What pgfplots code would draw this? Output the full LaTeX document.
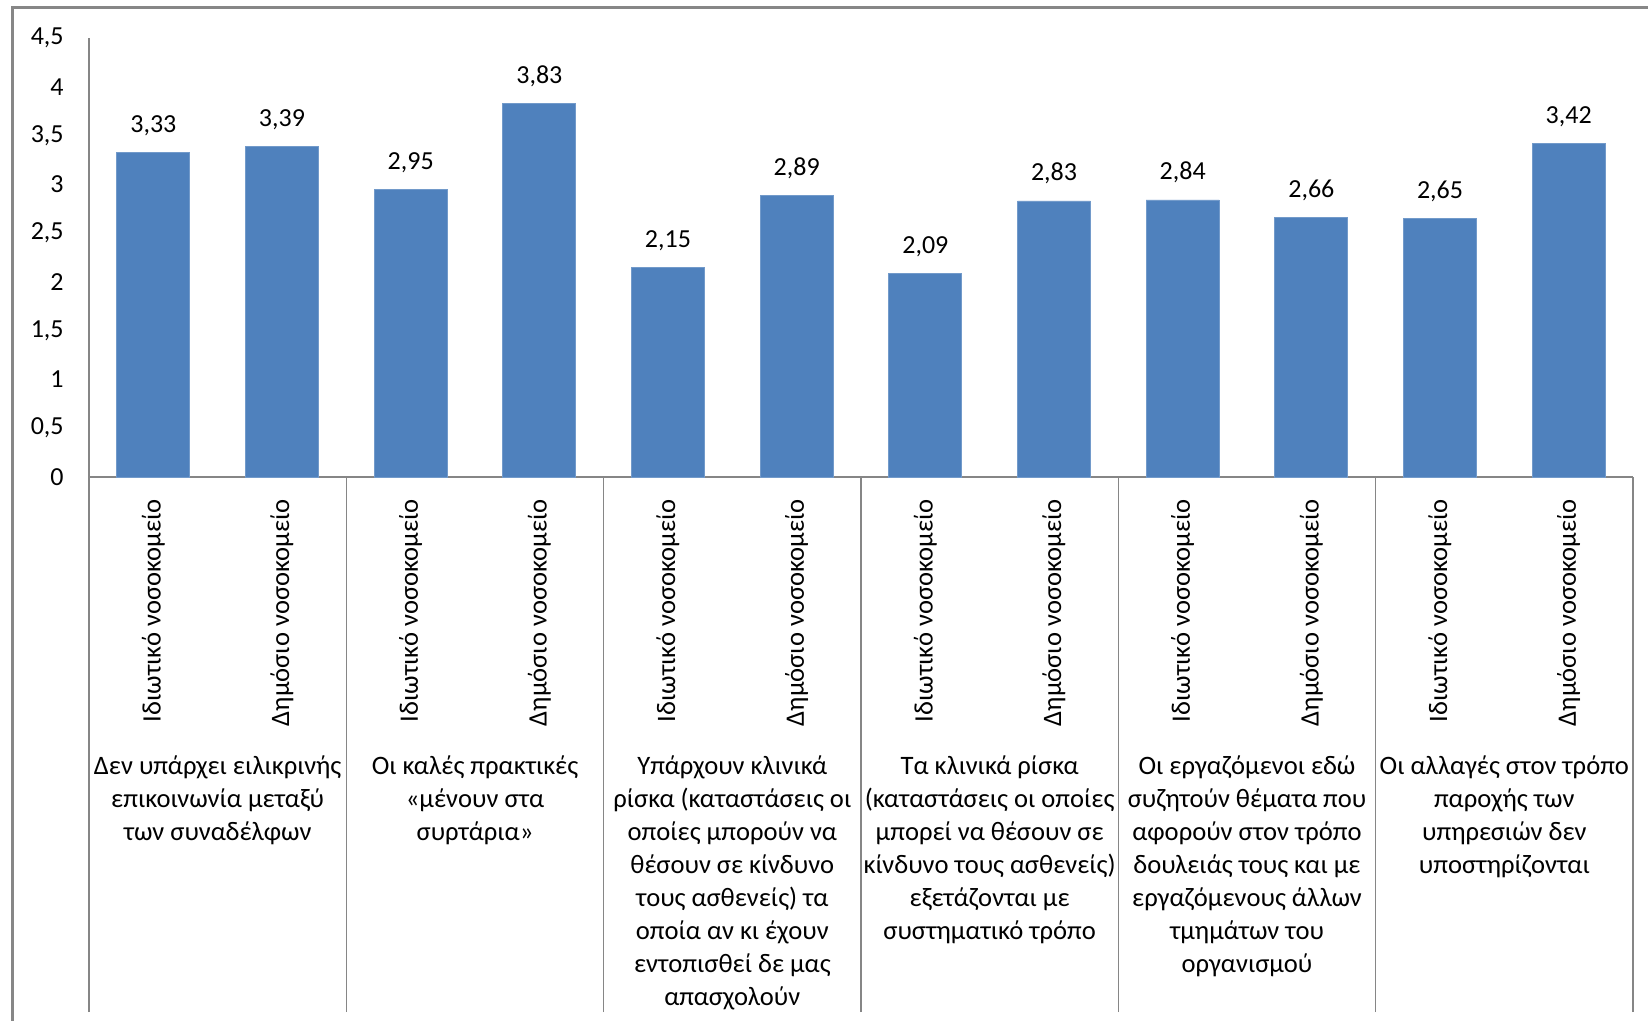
\documentclass[border=0pt]{standalone}
\usepackage{fontspec}
\setmainfont{Carlito}
\usepackage{pgfplots}
\pgfplotsset{compat=1.18}
\definecolor{barblue}{RGB}{79,129,189}
\definecolor{axgray}{RGB}{134,134,134}
\definecolor{framegray}{RGB}{135,135,135}
\begin{document}
\begin{tikzpicture}
\path[use as bounding box] (0,0) rectangle (824pt,510.5pt);
\draw[framegray, line width=1.5pt] (6pt,-2pt) -- (6pt,506.5pt) -- (830pt,506.5pt);
\begin{axis}[
  at={(44.5pt,272pt)}, anchor=south west,
  scale only axis, width=772pt, height=219.5pt,
  xmin=-0.5, xmax=11.5, ymin=0, ymax=4.5,
  clip=false,
  axis lines*=left,
  axis line style={axgray, line width=0.6pt},
  /pgf/number format/assume math mode=true,
  /pgf/number format/use comma,
  font=\fontsize{13}{15.6}\selectfont,
  ytick={0,0.5,1,1.5,2,2.5,3,3.5,4,4.5},
  ytick style={draw=none},
  yticklabel style={anchor=east, inner sep=0pt},
  yticklabel shift=12.5pt,
  major tick length=0pt,
  xtick={0,1,2,3,4,5,6,7,8,9,10,11},
  xtick style={draw=none},
  xticklabels={Ιδιωτικό νοσοκομείο, Δημόσιο νοσοκομείο, Ιδιωτικό νοσοκομείο, Δημόσιο νοσοκομείο, Ιδιωτικό νοσοκομείο, Δημόσιο νοσοκομείο, Ιδιωτικό νοσοκομείο, Δημόσιο νοσοκομείο, Ιδιωτικό νοσοκομείο, Δημόσιο νοσοκομείο, Ιδιωτικό νοσοκομείο, Δημόσιο νοσοκομείο},
  xticklabel style={rotate=90, anchor=east, inner sep=0pt, font=\fontsize{13.3}{15.6}\selectfont},
  xticklabel shift=11pt,
  extra x ticks={-0.5,1.5,3.5,5.5,7.5,9.5,11.5},
  extra x tick labels={},
  extra x tick style={major tick length=267.5pt, tick align=outside, xtick style={draw=axgray, line width=0.6pt}},
  nodes near coords={\pgfmathprintnumber[fixed,fixed zerofill,precision=2,use comma,assume math mode=true]{\pgfplotspointmeta}},
  nodes near coords style={anchor=base, inner sep=0pt, yshift=10pt, font=\fontsize{13}{15.6}\selectfont},
]
\addplot[ybar, bar width=0.567, fill=barblue, draw=barblue!80!white] coordinates {
  (0,3.33) (1,3.39) (2,2.95) (3,3.83) (4,2.15) (5,2.89)
  (6,2.09) (7,2.83) (8,2.84) (9,2.66) (10,2.65) (11,3.42)
};
\begin{scope}[every node/.style={anchor=north, align=center, inner sep=0pt, font=\fontsize{13.3}{16.5}\selectfont}]
\node at (axis cs:0.5,-2.85) {Δεν υπάρχει ειλικρινής\\επικοινωνία μεταξύ\\των συναδέλφων};
\node at (axis cs:2.5,-2.85) {Οι καλές πρακτικές\\«μένουν στα\\συρτάρια»};
\node at (axis cs:4.5,-2.85) {Υπάρχουν κλινικά\\ρίσκα (καταστάσεις οι\\οποίες μπορούν να\\θέσουν σε κίνδυνο\\τους ασθενείς) τα\\οποία αν κι έχουν\\εντοπισθεί δε μας\\απασχολούν};
\node at (axis cs:6.5,-2.85) {Τα κλινικά ρίσκα\\(καταστάσεις οι οποίες\\μπορεί να θέσουν σε\\κίνδυνο τους ασθενείς)\\εξετάζονται με\\συστηματικό τρόπο};
\node at (axis cs:8.5,-2.85) {Οι εργαζόμενοι εδώ\\συζητούν θέματα που\\αφορούν στον τρόπο\\δουλειάς τους και με\\εργαζόμενους άλλων\\τμημάτων του\\οργανισμού};
\node at (axis cs:10.5,-2.85) {Οι αλλαγές στον τρόπο\\παροχής των\\υπηρεσιών δεν\\υποστηρίζονται};
\end{scope}
\end{axis}
\end{tikzpicture}
\end{document}
